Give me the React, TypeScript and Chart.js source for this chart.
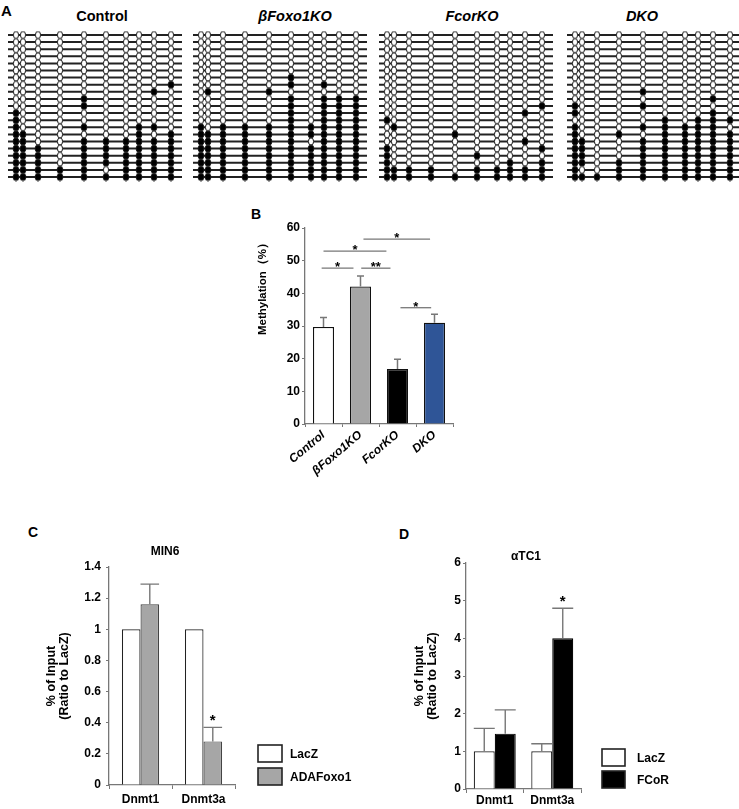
import React, { useEffect, useRef } from 'react';
import { Chart, registerables } from 'chart.js';

Chart.register(...registerables);

const FONT = '"Liberation Sans", Arial, Helvetica, sans-serif';

// ---------- Panel A: bisulfite clones (1 = methylated CpG, 0 = unmethylated) ----------
const cpgPositions = [8, 15, 30, 52, 76, 98, 118, 131, 146, 163];
const ampliconLength = 174;

const controlClones = [
  '0000000000', '0000000000', '0000000000', '0000000000', '0000000000', '0000000000', '0000000000',
  '0000000001', '0000000010', '0000100000', '0000100000', '1000000000', '1000000000', '1000100110',
  '1100000101', '1100111111', '1110111111', '1110111111', '1110111111', '1111101111', '1111111111',
];
const bFoxo1KOClones = [
  '0000000000', '0000000000', '0000000000', '0000000000', '0000000000', '0000000000', '0000010000',
  '0000010100', '0100100000', '0000010111', '0000010111', '0000010111', '0000010111', '1011111111',
  '1111111111', '1111110111', '1111111111', '1111111111', '1111111111', '1111111111', '1111111111',
];
const fcorKOClones = [
  '0000000000', '0000000000', '0000000000', '0000000000', '0000000000', '0000000000', '0000000000',
  '0000000000', '0000000000', '0000000000', '0000000001', '0000000010', '1000000000', '0100000000',
  '0000100000', '0000000010', '1000000001', '1000010000', '1000000101', '1111011111', '1111111111',
];
const dkoClones = [
  '0000000000', '0000000000', '0000000000', '0000000000', '0000000000', '0000000000', '0000000000',
  '0000000000', '0000100000', '0000000010', '1000100000', '1000000010', '0000010111', '1000111110',
  '1001011111', '1100111111', '1100111111', '1100111111', '1101111111', '1001111111', '1111111111',
];

// ---------- Panel B ----------
const bCategories = ['Control', 'βFoxo1KO', 'FcorKO', 'DKO'];
const bMethylation = [29.7, 42.1, 16.8, 31.0];
const bSem = [2.9, 3.2, 3.0, 2.6];
const bColors = ['#ffffff', '#a6a6a6', '#000000', '#2f5597'];
const bSigFrom = [-0.05, 1.02, 0, 1.08, 2.08];
const bSigTo = [0.81, 1.81, 1.7, 2.88, 2.91];
const bSigLevel = [47.7, 47.7, 52.9, 56.6, 35.6];
const bSigLabel = ['*', '**', '*', '*', '*'];

// ---------- Panel C ----------
const cGenes = ['Dnmt1', 'Dnmt3a'];
const cLacZ = [1, 1];
const cLacZErr = [0, 0];
const cADAFoxo1 = [1.16, 0.28];
const cADAFoxo1Err = [0.13, 0.09];

// ---------- Panel D ----------
const dGenes = ['Dnmt1', 'Dnmt3a'];
const dLacZ = [1, 1];
const dLacZErr = [0.61, 0.2];
const dFCoR = [1.47, 4.0];
const dFCoRErr = [0.63, 0.8];

// ---------- plugins ----------
const errorBarsPlugin = {
  id: 'errorBars',
  afterDatasetsDraw(chart: any, _a: any, opts: any) {
    const ctx = chart.ctx;
    const y = chart.scales.y;
    chart.data.datasets.forEach((ds: any, di: number) => {
      const errs = ds.errors;
      if (!errs) return;
      const meta = chart.getDatasetMeta(di);
      meta.data.forEach((el: any, i: number) => {
        const e = errs[i];
        if (!e) return;
        const top = y.getPixelForValue(ds.data[i] + e);
        const cap = opts.cap === 'bar' ? el.width : opts.cap;
        ctx.save();
        ctx.strokeStyle = opts.color;
        ctx.lineWidth = opts.width;
        ctx.beginPath();
        ctx.moveTo(el.x, el.y);
        ctx.lineTo(el.x, top);
        ctx.moveTo(el.x - cap / 2, top);
        ctx.lineTo(el.x + cap / 2, top);
        ctx.stroke();
        ctx.restore();
      });
    });
    (opts.stars || []).forEach((s: any) => {
      const ds = chart.data.datasets[s.ds];
      const el = chart.getDatasetMeta(s.ds).data[s.idx];
      const top = y.getPixelForValue(ds.data[s.idx] + (ds.errors ? ds.errors[s.idx] : 0));
      ctx.save();
      ctx.fillStyle = '#000';
      ctx.font = opts.starFont;
      ctx.textAlign = 'center';
      ctx.textBaseline = 'alphabetic';
      ctx.fillText(s.text, el.x, top + (s.dy ?? -2));
      ctx.restore();
    });
  },
};

const sigLinesPlugin = {
  id: 'sigLines',
  afterDatasetsDraw(chart: any, _a: any, opts: any) {
    if (!opts.from) return;
    const ctx = chart.ctx;
    const x = chart.scales.x;
    const y = chart.scales.y;
    opts.from.forEach((f: number, i: number) => {
      const x1 = x.getPixelForValue(f);
      const x2 = x.getPixelForValue(opts.to[i]);
      const yy = y.getPixelForValue(opts.level[i]);
      ctx.save();
      ctx.strokeStyle = opts.color;
      ctx.lineWidth = opts.width;
      ctx.beginPath();
      ctx.moveTo(x1, yy);
      ctx.lineTo(x2, yy);
      ctx.stroke();
      ctx.fillStyle = '#000';
      ctx.font = opts.font;
      ctx.textAlign = 'center';
      ctx.textBaseline = 'alphabetic';
      ctx.fillText(opts.label[i], (x1 + x2) / 2, yy + 3);
      ctx.restore();
    });
  },
};

const textsPlugin = {
  id: 'texts',
  afterDraw(chart: any, _a: any, opts: any) {
    const ctx = chart.ctx;
    (opts.items || []).forEach((t: any) => {
      ctx.save();
      ctx.translate(t.x, t.y);
      if (t.rot) ctx.rotate((t.rot * Math.PI) / 180);
      ctx.font = t.font;
      ctx.fillStyle = t.color || '#000';
      ctx.textAlign = t.align || 'center';
      ctx.textBaseline = 'middle';
      ctx.fillText(t.text, 0, 0);
      ctx.restore();
    });
  },
};

const boxLegendPlugin = {
  id: 'boxLegend',
  afterDraw(chart: any, _a: any, opts: any) {
    if (!opts.tops) return;
    const ctx = chart.ctx;
    const area = chart.chartArea;
    chart.data.datasets.forEach((ds: any, i: number) => {
      const bx = area.right + opts.dx;
      const by = area.bottom - opts.tops[i];
      ctx.save();
      ctx.fillStyle = ds.backgroundColor;
      ctx.fillRect(bx, by, opts.w, opts.h);
      ctx.strokeStyle = '#222';
      ctx.lineWidth = 1.6;
      ctx.strokeRect(bx, by, opts.w, opts.h);
      ctx.fillStyle = '#000';
      ctx.font = opts.font;
      ctx.textAlign = 'left';
      ctx.textBaseline = 'middle';
      ctx.fillText(ds.label, bx + opts.textDx, by + opts.h / 2 + 1);
      ctx.restore();
    });
  },
};

// ---------- builders ----------
function makeEllipse(filled: boolean) {
  const c = document.createElement('canvas');
  c.width = 8;
  c.height = 9;
  const g = c.getContext('2d')!;
  g.beginPath();
  g.ellipse(4, 4.5, filled ? 2.9 : 2.6, 3.6, 0, 0, Math.PI * 2);
  g.fillStyle = filled ? '#000' : '#fff';
  g.fill();
  g.lineWidth = 1;
  g.strokeStyle = '#1a1a1a';
  g.stroke();
  return c;
}

function lollipopConfig(clones: string[]) {
  const open = makeEllipse(false);
  const filled = makeEllipse(true);
  const pts: any[] = [];
  clones.forEach((row, r) =>
    row.split('').forEach((ch, c) => pts.push({ x: cpgPositions[c], y: r, m: ch === '1' }))
  );
  const segs: any[] = [];
  clones.forEach((_, r) => {
    segs.push({ x: 0, y: r }, { x: ampliconLength, y: r }, { x: ampliconLength, y: null });
  });
  return {
    type: 'scatter',
    data: {
      datasets: [
        {
          data: pts,
          pointStyle: (ctx: any) => (ctx.raw && ctx.raw.m ? filled : open),
          pointRadius: 4,
          clip: false,
          order: 0,
          showLine: false,
        },
        {
          data: segs,
          showLine: true,
          pointRadius: 0,
          borderColor: '#222',
          borderWidth: 2,
          clip: false,
          order: 1,
          spanGaps: false,
        },
      ],
    },
    options: {
      animation: false,
      responsive: true,
      maintainAspectRatio: false,
      events: [],
      layout: { padding: { left: 5, right: 5, top: 7, bottom: 7 } },
      scales: {
        x: { type: 'linear', min: 0, max: ampliconLength, display: false },
        y: { type: 'linear', min: 0, max: clones.length - 1, reverse: true, display: false },
      },
      plugins: { legend: { display: false }, tooltip: { enabled: false } },
    },
  };
}

const axisGray = '#777';

function bConfig() {
  return {
    type: 'bar',
    data: {
      labels: bCategories,
      datasets: [
        {
          data: bMethylation,
          errors: bSem,
          backgroundColor: bColors,
          borderColor: '#111',
          borderWidth: 1.3,
          barPercentage: 0.57,
          categoryPercentage: 1,
        },
      ],
    },
    options: {
      animation: false,
      responsive: true,
      maintainAspectRatio: false,
      events: [],
      layout: { padding: { top: 38, right: 17, left: 0, bottom: 0 } },
      plugins: {
        legend: { display: false },
        tooltip: { enabled: false },
        errorBars: { color: axisGray, width: 1.5, cap: 7 },
        sigLines: {
          from: bSigFrom, to: bSigTo, level: bSigLevel, label: bSigLabel,
          color: axisGray, width: 1.3, font: `bold 13px ${FONT}`,
        },
        texts: { items: [{ text: 'Methylation（%）', x: 43, y: 96, rot: -90, font: `bold 11.5px ${FONT}` }] },
      },
      scales: {
        x: {
          grid: { drawOnChartArea: false, tickLength: 3, color: axisGray },
          border: { color: axisGray, width: 1.3 },
          ticks: {
            color: '#000', autoSkip: false, minRotation: 40, maxRotation: 40, padding: 1,
            font: { family: FONT, size: 12, weight: 'bold', style: 'italic' },
          },
          afterFit: (s: any) => { s.height = 61; },
        },
        y: {
          min: 0, max: 60,
          ticks: { stepSize: 10, color: '#000', padding: 2, font: { family: FONT, size: 12, weight: 'bold' } },
          grid: { drawOnChartArea: false, tickLength: 3, color: axisGray },
          border: { color: axisGray, width: 1.3 },
          afterFit: (s: any) => { s.width = 85; },
        },
      },
    },
    plugins: [errorBarsPlugin, sigLinesPlugin, textsPlugin],
  };
}

function groupedConfig(p: {
  genes: string[]; s1: number[]; e1: number[]; s2: number[]; e2: number[];
  n2: string; c2: string; b2: string; ymax: number; step: number;
  yWidth: number; titlePad: number; padTop: number; padRight: number; xHeight: number;
  catPct: number; title: string; titleX: number; titleY: number;
  legend: any; tickPad: number; xTickPad: number;
}) {
  return {
    type: 'bar',
    data: {
      labels: p.genes,
      datasets: [
        { label: 'LacZ', data: p.s1, errors: p.e1, backgroundColor: '#ffffff', borderColor: '#222', borderWidth: 1.2, categoryPercentage: p.catPct, barPercentage: 1 },
        { label: p.n2, data: p.s2, errors: p.e2, backgroundColor: p.c2, borderColor: p.b2, borderWidth: 1.2, categoryPercentage: p.catPct, barPercentage: 1 },
      ],
    },
    options: {
      animation: false,
      responsive: true,
      maintainAspectRatio: false,
      events: [],
      layout: { padding: { top: p.padTop, right: p.padRight, left: 0, bottom: 0 } },
      plugins: {
        legend: { display: false },
        tooltip: { enabled: false },
        errorBars: { color: axisGray, width: 1.4, cap: 'bar', stars: [{ ds: 1, idx: 1, text: '*' }], starFont: `bold 15px ${FONT}` },
        texts: { items: [{ text: p.title, x: p.titleX, y: p.titleY, font: `bold 12px ${FONT}` }] },
        boxLegend: p.legend,
      },
      scales: {
        x: {
          grid: { drawOnChartArea: false, tickLength: 4, color: axisGray },
          border: { color: axisGray, width: 1.3 },
          ticks: { color: '#000', padding: p.xTickPad, font: { family: FONT, size: 12, weight: 'bold' } },
          afterFit: (s: any) => { s.height = p.xHeight; },
        },
        y: {
          min: 0, max: p.ymax,
          ticks: {
            stepSize: p.step, color: '#000', padding: p.tickPad,
            font: { family: FONT, size: 12, weight: 'bold' },
            callback: (v: any) => String(Math.round(Number(v) * 10) / 10),
          },
          grid: { drawOnChartArea: false, tickLength: 3, color: axisGray },
          border: { color: axisGray, width: 1.3 },
          title: {
            display: true,
            text: ['% of Input', '(Ratio to LacZ)'],
            color: '#000',
            font: { family: FONT, size: 12.5, weight: 'bold', lineHeight: 1.05 },
            padding: { top: p.titlePad, bottom: 0 },
          },
          afterFit: (s: any) => { s.width = p.yWidth; },
        },
      },
    },
    plugins: [errorBarsPlugin, textsPlugin, boxLegendPlugin],
  };
}

function ChartBox({ left, top, width, height, build }: { left: number; top: number; width: number; height: number; build: () => any }) {
  const ref = useRef<HTMLCanvasElement>(null);
  useEffect(() => {
    const chart = new Chart(ref.current as HTMLCanvasElement, build());
    return () => chart.destroy();
  }, []);
  return (
    <div style={{ position: 'absolute', left, top, width, height }}>
      <canvas ref={ref} style={{ display: 'block' }} />
    </div>
  );
}

function Label({ text, cx, left, top, size, italic }: { text: string; cx?: number; left?: number; top: number; size: number; italic?: boolean }) {
  const style: React.CSSProperties = {
    position: 'absolute',
    top,
    fontFamily: FONT,
    fontWeight: 'bold',
    fontStyle: italic ? 'italic' : 'normal',
    fontSize: size,
    lineHeight: `${size}px`,
    color: '#000',
    whiteSpace: 'nowrap',
  };
  if (cx !== undefined) {
    style.left = cx - 80;
    style.width = 160;
    style.textAlign = 'center';
  } else {
    style.left = left;
  }
  return <div style={style}>{text}</div>;
}

export default function App() {
  return (
    <div style={{ position: 'absolute', left: 0, top: 0, width: 739, height: 809, overflow: 'hidden', background: '#fff' }}>
      <Label text="A" left={1} top={3} size={15} />
      <Label text="Control" cx={102} top={9} size={14.5} />
      <Label text="βFoxo1KO" cx={295} top={9} size={14.5} italic />
      <Label text="FcorKO" cx={472} top={9} size={14.5} italic />
      <Label text="DKO" cx={642} top={9} size={14.5} italic />

      <ChartBox left={3} top={28} width={184} height={156} build={() => lollipopConfig(controlClones)} />
      <ChartBox left={188} top={28} width={184} height={156} build={() => lollipopConfig(bFoxo1KOClones)} />
      <ChartBox left={374} top={28} width={184} height={156} build={() => lollipopConfig(fcorKOClones)} />
      <ChartBox left={562} top={28} width={184} height={156} build={() => lollipopConfig(dkoClones)} />

      <Label text="B" left={251} top={207} size={14} />
      <ChartBox left={220} top={190} width={250} height={295} build={bConfig} />

      <Label text="C" left={28} top={525} size={14} />
      <ChartBox
        left={0} top={490} width={370} height={319}
        build={() =>
          groupedConfig({
            genes: cGenes, s1: cLacZ, e1: cLacZErr, s2: cADAFoxo1, e2: cADAFoxo1Err,
            n2: 'ADAFoxo1', c2: '#a6a6a6', b2: '#444', ymax: 1.4, step: 0.2,
            yWidth: 109, titlePad: 45, padTop: 77, padRight: 135, xHeight: 24,
            catPct: 0.59, title: 'MIN6', titleX: 165, titleY: 62,
            legend: { dx: 23, w: 24, h: 17, tops: [40, 17], textDx: 32, font: `bold 12px ${FONT}` },
            tickPad: 5, xTickPad: 3,
          })
        }
      />

      <Label text="D" left={399} top={527} size={14} />
      <ChartBox
        left={370} top={490} width={369} height={319}
        build={() =>
          groupedConfig({
            genes: dGenes, s1: dLacZ, e1: dLacZErr, s2: dFCoR, e2: dFCoRErr,
            n2: 'FCoR', c2: '#000000', b2: '#000', ymax: 6, step: 1,
            yWidth: 96, titlePad: 43, padTop: 73, padRight: 158, xHeight: 20,
            catPct: 0.73, title: 'αTC1', titleX: 156, titleY: 67,
            legend: { dx: 21, w: 23, h: 17, tops: [40, 18], textDx: 35, font: `bold 12px ${FONT}` },
            tickPad: 2, xTickPad: 0,
          })
        }
      />
    </div>
  );
}
